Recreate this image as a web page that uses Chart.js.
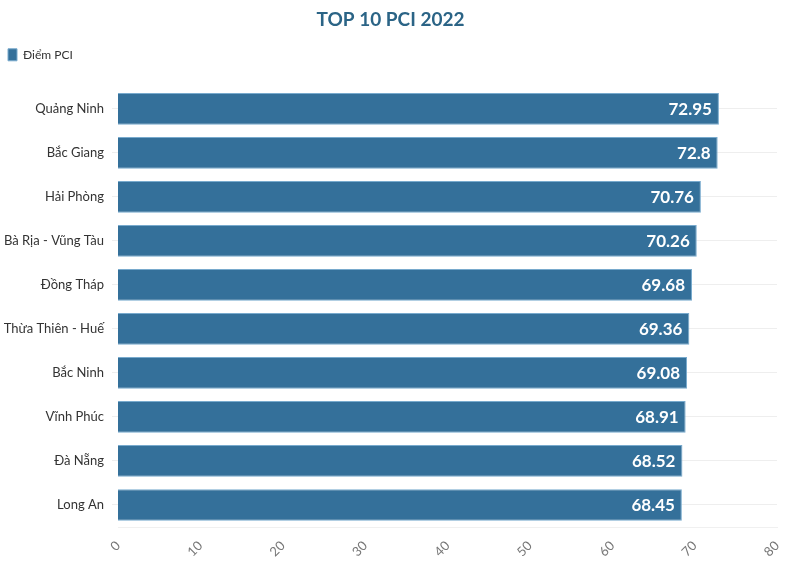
<!DOCTYPE html>
<html>
<head>
<meta charset="utf-8">
<script src="https://cdn.jsdelivr.net/npm/chart.js@4"></script>
<style>
  html, body { margin: 0; padding: 0; background: #fff; }
  #wrap { width: 800px; height: 578px; }
</style>
</head>
<body>
<div id="wrap"><canvas id="pci"></canvas></div>
<script>
const provinces = ['Quảng Ninh', 'Bắc Giang', 'Hải Phòng', 'Bà Rịa - Vũng Tàu', 'Đồng Tháp',
    'Thừa Thiên - Huế', 'Bắc Ninh', 'Vĩnh Phúc', 'Đà Nẵng', 'Long An'];
const pciScores = [72.95, 72.8, 70.76, 70.26, 69.68, 69.36, 69.08, 68.91, 68.52, 68.45];
const xTicks = [0, 10, 20, 30, 40, 50, 60, 70, 80];

const barColor = 'rgb(52, 112, 154)';

// white value label at the end of each bar
const valueLabels = {
    id: 'valueLabels',
    afterDatasetsDraw(chart) {
        let ctx = chart.ctx
        ctx.save()
        ctx.fillStyle = '#fff'
        ctx.font = 'bold 17px Lato'
        ctx.textAlign = 'right'
        ctx.textBaseline = 'middle'
        chart.getDatasetMeta(0).data.forEach((bar, i) => {
            ctx.fillText(String(pciScores[i]), bar.x - 7, bar.y + 1)
        })
        ctx.restore()
    }
};

// extra room under the legend
const legendGap = {
    id: 'legendGap',
    beforeInit(chart) {
        const fit = chart.legend.fit
        chart.legend.fit = function () {
            fit.bind(chart.legend)()
            this.height += 16
        }
    }
};

function PciChart(id) {
    const data = {
        labels: provinces,
        datasets: [{
                label: 'Điểm PCI',
                data: pciScores,
                backgroundColor: barColor,
                borderColor: 'rgb(120, 170, 205)',
                borderWidth: 1,
                barPercentage: 0.72,
                categoryPercentage: 1
            }]
    };
    const config = {
        type: 'bar',
        data: data,
        options: {
            indexAxis: 'y',
            responsive: true,
            maintainAspectRatio: false,
            animation: false,
            layout: {padding: {left: 4, right: 23, top: 4, bottom: 0}},
            plugins: {
                title: {
                    display: true,
                    text: 'TOP 10 PCI 2022',
                    color: '#2b6486',
                    font: {family: 'Lato', size: 19, weight: 'bold'},
                    padding: {top: 4, bottom: 14}
                },
                legend: {
                    align: 'start',
                    labels: {
                        color: '#333',
                        font: {family: 'Lato', size: 12},
                        boxWidth: 9,
                        boxHeight: 12,
                        padding: 4
                    }
                },
                tooltip: {enabled: false}
            },
            scales: {
                x: {
                    min: 0,
                    max: 80,
                    afterBuildTicks: (scale) => {
                        scale.ticks = xTicks.map(v => ({value: v}))
                    },
                    afterFit: (scale) => {
                        scale.height = 51
                    },
                    ticks: {
                        color: '#777',
                        font: {family: 'Lato', size: 13},
                        minRotation: 45,
                        maxRotation: 45
                    },
                    grid: {display: false},
                    border: {display: true, color: '#f0f0f0'}
                },
                y: {
                    afterFit: (scale) => {
                        scale.width = 114
                    },
                    ticks: {
                        color: '#333',
                        font: {family: 'Lato', size: 13},
                        padding: 8
                    },
                    grid: {
                        offset: false,
                        color: '#eeeeee',
                        drawTicks: true,
                        tickLength: 6
                    },
                    border: {display: false}
                }
            }
        },
        plugins: [valueLabels, legendGap]
    };
    let ctx = document.getElementById(id).getContext("2d")
    new Chart(ctx, config)
}

PciChart('pci')
</script>
</body>
</html>
